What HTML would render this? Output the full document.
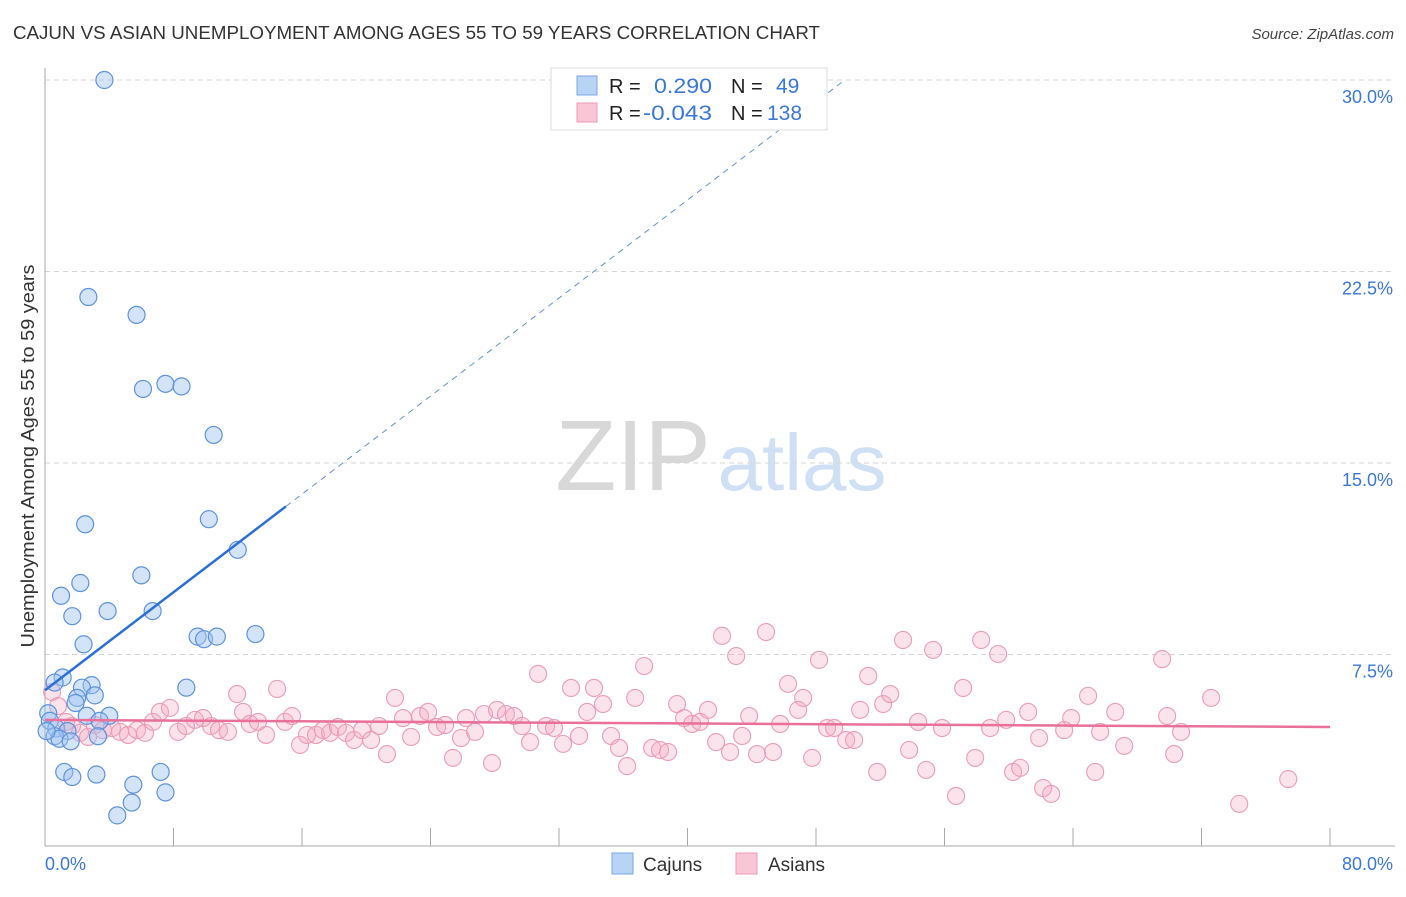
<!DOCTYPE html>
<html><head><meta charset="utf-8"><style>
body{margin:0;background:#fff;font-family:"Liberation Sans",sans-serif;}
svg text{font-family:"Liberation Sans",sans-serif;}
</style></head><body>
<svg id="chart" width="1406" height="892" xmlns="http://www.w3.org/2000/svg">
<text x="13" y="39" font-size="18" fill="#333" textLength="807" lengthAdjust="spacingAndGlyphs">CAJUN VS ASIAN UNEMPLOYMENT AMONG AGES 55 TO 59 YEARS CORRELATION CHART</text>
<text x="1394" y="39" font-size="15" fill="#444" text-anchor="end" font-style="italic">Source: ZipAtlas.com</text>
<g>
<text x="633" y="490" font-size="100" fill="#d8d8d8" text-anchor="middle" font-family="Liberation Serif, serif">ZIP</text>
<text x="802" y="490" font-size="80" fill="#cfe0f5" text-anchor="middle">atlas</text>
</g>
<g id="grid"></g>
<g id="axes"></g>
<g id="pts"></g>
<g id="lines"></g>
<text transform="translate(34,456) rotate(-90)" font-size="18" fill="#333" text-anchor="middle" textLength="383" lengthAdjust="spacingAndGlyphs">Unemployment Among Ages 55 to 59 years</text>
<text x="45" y="870" font-size="18" fill="#3a78d8">0.0%</text>
<text x="1393" y="870" font-size="18" fill="#3a78d8" text-anchor="end">80.0%</text>
<g>
<rect x="551" y="68" width="276" height="62" fill="#fff" stroke="#ddd"/>
<rect x="577" y="76" width="20" height="19" fill="#b9d3f5" stroke="#7aa7e6"/>
<rect x="577" y="103" width="20" height="19" fill="#f9c6d6" stroke="#ee9ab6"/>
<text x="609" y="93" font-size="20" fill="#222">R =</text>
<text x="654" y="93" font-size="21" fill="#3a78d8" textLength="58" lengthAdjust="spacingAndGlyphs">0.290</text>
<text x="731" y="93" font-size="20" fill="#222">N =</text>
<text x="776" y="93" font-size="21" fill="#3a78d8">49</text>
<text x="609" y="120" font-size="20" fill="#222">R =</text>
<text x="643" y="120" font-size="21" fill="#3a78d8" textLength="69" lengthAdjust="spacingAndGlyphs">-0.043</text>
<text x="731" y="120" font-size="20" fill="#222">N =</text>
<text x="767" y="120" font-size="21" fill="#3a78d8">138</text>
</g>
<g>
<rect x="612" y="853" width="21" height="21" fill="#b9d3f5" stroke="#7aa7e6"/>
<text x="643" y="871" font-size="19" fill="#333">Cajuns</text></g>
<g>
<rect x="736" y="853" width="21" height="21" fill="#f9c6d6" stroke="#ee9ab6"/>
<text x="768" y="871" font-size="19" fill="#333">Asians</text></g>
</svg>
<script>
const yTicks=[7.5,15,22.5,30];
const yTickLabels=["7.5%","15.0%","22.5%","30.0%"];
const xTicks=[0,8,16,24,32,40,48,56,64,72,80];
const cajunX=[3.7,2.7,5.7,6.1,7.5,8.5,10.5,2.5,10.2,12.0,6.0,2.2,1.0,1.7,3.9,6.7,2.4,9.5,9.9,10.7,13.1,1.1,0.6,8.8,2.9,2.3,3.1,2.0,1.9,0.2,2.6,4.0,0.3,3.4,0.7,1.4,0.6,0.9,3.3,1.6,1.2,1.7,3.2,7.2,5.5,7.5,5.4,4.5,0.1];
const cajunY=[30.0,21.5,20.8,17.9,18.1,18.0,16.1,12.6,12.8,11.6,10.6,10.3,9.8,9.0,9.2,9.2,7.9,8.2,8.1,8.2,8.3,6.6,6.4,6.2,6.3,6.2,5.9,5.8,5.6,5.2,5.1,5.1,4.9,4.9,4.6,4.5,4.3,4.2,4.3,4.1,2.9,2.7,2.8,2.9,2.4,2.1,1.7,1.2,4.5];
const asianX=[0.44,0.81,1.31,1.68,2.18,2.68,3.11,3.61,4.17,4.67,5.17,5.73,6.23,6.72,7.16,7.78,8.28,8.78,9.34,9.84,10.34,10.83,11.39,11.96,12.33,12.76,13.26,13.76,14.45,14.94,15.38,15.88,16.31,16.87,17.31,17.75,18.24,18.74,19.24,19.74,20.30,20.80,21.29,21.79,22.29,22.79,23.35,23.85,24.41,24.91,25.40,25.90,26.21,26.77,27.33,27.83,28.14,28.70,29.20,29.70,30.20,30.70,31.20,31.69,32.25,32.75,33.25,33.75,34.18,34.74,35.24,35.74,36.24,36.74,37.30,37.80,38.29,38.79,39.35,39.79,40.29,40.78,41.28,41.78,42.15,42.65,43.03,43.40,43.84,44.33,44.89,45.33,45.77,46.26,46.89,47.20,47.76,48.19,48.69,49.13,49.88,50.37,50.75,51.25,51.81,52.18,52.62,53.42,53.80,54.36,54.86,55.29,55.85,56.72,57.16,57.91,58.28,58.84,59.34,59.84,60.27,60.71,61.21,61.89,62.14,62.64,63.45,63.89,64.94,65.38,65.69,66.63,67.19,69.55,69.86,70.30,70.73,72.60,74.35,77.40];
const asianY=[6.03,5.48,4.86,4.70,4.43,4.27,4.74,4.54,4.62,4.47,4.35,4.54,4.43,4.86,5.25,5.41,4.47,4.70,4.94,5.01,4.70,4.54,4.47,5.95,5.25,4.78,4.86,4.35,6.15,4.86,5.09,3.96,4.35,4.35,4.54,4.43,4.66,4.43,4.15,4.54,4.15,4.70,3.60,5.80,5.01,4.27,5.09,5.25,4.66,4.74,3.45,4.23,5.01,4.47,5.17,3.25,5.33,5.17,5.09,4.70,4.07,6.74,4.70,4.62,4.00,6.19,4.31,5.25,6.19,5.56,4.31,3.84,3.13,5.80,7.05,3.84,3.76,3.68,5.56,5.01,4.78,4.86,5.33,4.07,8.23,3.68,7.44,4.31,5.09,3.60,8.38,3.68,4.78,6.35,5.33,5.80,3.45,7.29,4.62,4.62,4.15,4.15,5.33,6.66,2.90,5.56,5.95,8.07,3.76,4.86,2.98,7.68,4.62,1.96,6.19,3.45,8.07,4.62,7.52,4.94,2.90,3.06,5.25,4.23,2.27,2.04,4.54,5.01,5.88,2.90,4.47,5.25,3.92,7.32,5.09,3.60,4.47,5.80,1.65,2.62];
const cajunTrend=[6.1,0.48];
const asianTrend=[4.94,-0.0035];

const X0=45,X1=1330,Y0=846,PERY=191.5/7.5;
const sx=v=>X0+v*(X1-X0)/80;
const sy=v=>Y0-v*PERY;
const NS='http://www.w3.org/2000/svg';
function mk(tag,attrs,parent){const e=document.createElementNS(NS,tag);for(const k in attrs)e.setAttribute(k,attrs[k]);parent.appendChild(e);return e;}
const grid=document.getElementById('grid'),axes=document.getElementById('axes'),pts=document.getElementById('pts'),lines=document.getElementById('lines');
yTicks.forEach((t,i)=>{
  const l=mk('line',{x1:X0,x2:1395,y1:sy(t),y2:sy(t),stroke:'#d6d6d6','stroke-dasharray':'5,4'},grid);
  
  
  const tx=mk('text',{x:1393,y:sy(t)+23,'font-size':18,fill:'#3a78d8','text-anchor':'end'},grid);
  tx.textContent=yTickLabels[i];
  
  
});
const ya=mk('line',{x1:X0,x2:X0,y1:68,y2:Y0,stroke:'#aaa'},axes);


const xa=mk('line',{x1:X0,x2:1395,y1:Y0,y2:Y0,stroke:'#aaa'},axes);


xTicks.forEach(t=>{
  const l=mk('line',{x1:sx(t),x2:sx(t),y1:Y0,y2:Y0-18,stroke:'#aaa'},axes);
  
  
});
asianX.forEach((x,i)=>{
  const c=mk('circle',{cx:sx(x),cy:sy(asianY[i]),r:8.5,fill:'rgba(244,170,195,0.33)',stroke:'#eb9bb6','stroke-width':1.1},pts);
  
  
});
cajunX.forEach((x,i)=>{
  const c=mk('circle',{cx:sx(x),cy:sy(cajunY[i]),r:8.5,fill:'rgba(160,196,240,0.45)',stroke:'#5e92dc','stroke-width':1.2},pts);
  
  
});
const f=(tr,x)=>tr[0]+tr[1]*x;
const xe=(30-cajunTrend[0])/cajunTrend[1];
const cd=mk('line',{x1:sx(15),y1:sy(f(cajunTrend,15)),x2:sx(xe),y2:sy(30),stroke:'#5e92dc','stroke-width':1,'stroke-dasharray':'6,5'},lines);


const cl=mk('line',{x1:sx(0),y1:sy(f(cajunTrend,0)),x2:sx(15),y2:sy(f(cajunTrend,15)),stroke:'#2a6fd6','stroke-width':2.5},lines);


const al=mk('line',{x1:sx(0),y1:sy(f(asianTrend,0)),x2:sx(80),y2:sy(f(asianTrend,80)),stroke:'#e8709a','stroke-width':2.5},lines);


</script>
</body></html>
